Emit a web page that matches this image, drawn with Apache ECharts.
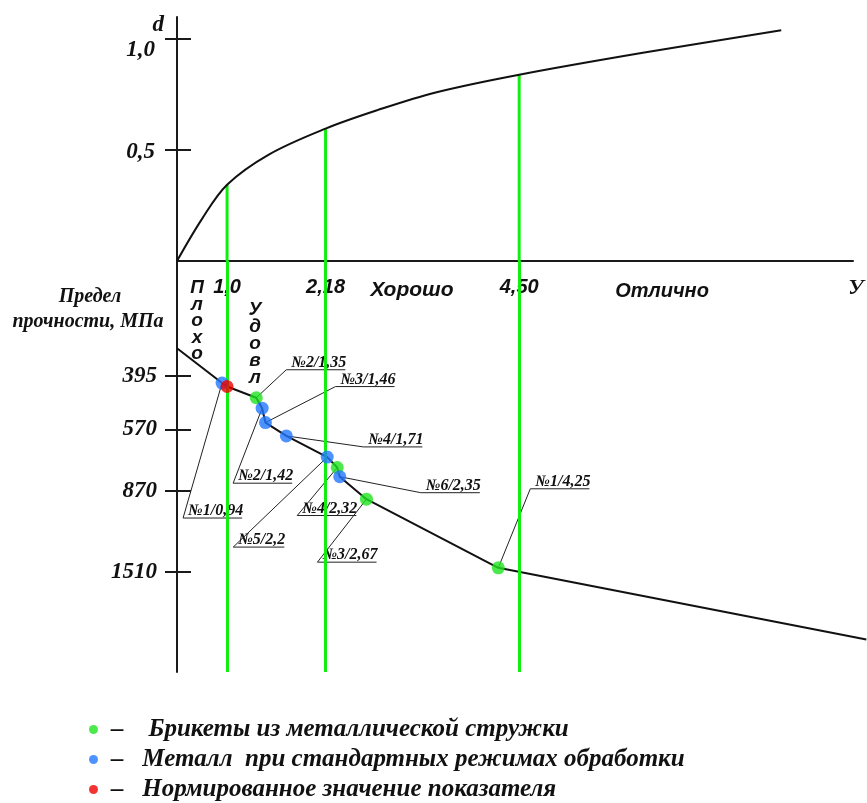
<!DOCTYPE html>
<html>
<head>
<meta charset="utf-8">
<title>Номограмма желательности</title>
<script src="https://cdn.jsdelivr.net/npm/echarts@6/dist/echarts.min.js"></script>
<style>
  html, body { margin: 0; padding: 0; background: #ffffff; }
  #chart { width: 867px; height: 803px; }
</style>
</head>
<body>
<div id="chart"></div>
<script>
// ---- Desirability curve d(У) ----
const curveU = [0.4, 0.7, 1.0, 1.5, 2.18, 2.8, 3.5, 4.5, 6.0, 7.64];
const curveD = [0, 0.19, 0.344, 0.48, 0.597, 0.68, 0.76, 0.84, 0.94, 1.04];

// ---- Grade boundaries on the У scale and d where they meet the curve ----
const gradeU = [1.0, 2.18, 4.5];
const gradeD = [0.344, 0.597, 0.84];
const gradeTickLabels = ['1,0', '2,18', '4,50'];

// ---- Axis ticks ----
const dTicks = [0.5, 1.0];
const strengthTicks = [395, 570, 870, 1510];

// ---- Briquettes from metal chips: sample No., У, ultimate strength (MPa) ----
const chipNo = [2, 4, 3, 1];
const chipU = [1.35, 2.32, 2.67, 4.25];
const chipS = [459, 740, 919, 1470];

// ---- Metal under standard machining modes ----
const metalNo = [1, 2, 3, 4, 5, 6];
const metalU = [0.94, 1.42, 1.46, 1.71, 2.2, 2.35];
const metalS = [415, 493, 544, 596, 689, 788];

// ---- Normative value of the index ----
const normU = [1.0];
const normS = [425];

// ---- Ends of the strength curve ----
const curveEndU = [0.4, 8.66];
const curveEndS = [327, 2400];

// ---- Series names (legend) ----
const chipName = 'Брикеты из металлической стружки';
const metalName = 'Металл  при стандартных режимах обработки';
const normName = 'Нормированное значение показателя';

// ---- Callout placement: offset of the underline start from its point, px ----
const calloutOffset = {
  '№1/0,94': [-39, 135],
  '№2/1,42': [-29, 75],
  '№3/1,46': [70, -36],
  '№4/1,71': [77, 11],
  '№5/2,2': [-94, 90],
  '№6/2,35': [81, 16],
  '№2/1,35': [30, -28],
  '№4/2,32': [-40, 48],
  '№3/2,67': [-49, 63],
  '№1/4,25': [32, -79]
};

const SERIF = '"Liberation Serif", "DejaVu Serif", serif';
const SANS = '"Liberation Sans", Arial, sans-serif';
const GREEN_LINE = '#12ee12';
const GREEN_DOT = '#1ee41e';
const BLUE_DOT = '#2277ff';
const RED_DOT = '#f00000';
const INK = '#111111';

const comma = v => String(v).replace('.', ',');
const zip = (a, b) => a.map((v, i) => [v, b[i]]);

// Strength curve passes through every sample point, ordered along У
const strengthCurve = zip(curveEndU, curveEndS)
  .concat(zip(chipU, chipS), zip(metalU, metalS), zip(normU, normS))
  .sort((p, q) => p[0] - q[0]);

// Callout records built from the sample arrays
const callouts = [];
metalNo.forEach((n, i) => callouts.push(['№' + n + '/' + comma(metalU[i]), metalU[i], metalS[i]]));
chipNo.forEach((n, i) => callouts.push(['№' + n + '/' + comma(chipU[i]), chipU[i], chipS[i]]));

const calloutFont = 'italic bold 16px ' + SERIF;
const measureCtx = document.createElement('canvas').getContext('2d');
measureCtx.font = calloutFont;

// Shared У scale: the lower panel runs a little past the drawn axis line,
// so its extent is widened in proportion to keep both panels on one scale.
const PLOT_LEFT = 177, AXIS_WIDTH = 676, LOWER_WIDTH = 690;
const U_MIN = 0.4, U_MAX = 8.5;
const U_MAX_LOWER = U_MIN + (U_MAX - U_MIN) * LOWER_WIDTH / AXIS_WIDTH;
const S_MIN = 180, S_MAX = 3000;

const axisInk = { color: '#1a1a1a', width: 2 };
const boldSerif = size => ({ fontFamily: SERIF, fontStyle: 'italic', fontWeight: 'bold', fontSize: size, color: INK });
const boldSans = size => ({ fontFamily: SANS, fontStyle: 'italic', fontWeight: 'bold', fontSize: size, color: INK });

const chart = echarts.init(document.getElementById('chart'));

chart.setOption({
  animation: false,
  backgroundColor: '#ffffff',
  grid: [
    { left: PLOT_LEFT, width: AXIS_WIDTH, top: 17, height: 244 },
    { left: PLOT_LEFT, width: LOWER_WIDTH, top: 261, height: 411 }
  ],
  xAxis: [
    {
      gridIndex: 0, type: 'value', min: U_MIN, max: U_MAX,
      axisLine: { show: true, onZero: false, lineStyle: axisInk },
      axisTick: { show: false },
      splitLine: { show: false },
      axisLabel: {
        customValues: gradeU, margin: 16,
        ...boldSans(20),
        formatter: v => {
          const k = gradeU.findIndex(g => Math.abs(g - v) < 1e-6);
          return k >= 0 ? gradeTickLabels[k] : '';
        }
      },
      name: 'У', nameLocation: 'end', nameGap: 3,
      nameTextStyle: { ...boldSerif(22), align: 'center', verticalAlign: 'top', padding: [16, 0, 0, 0] }
    },
    {
      gridIndex: 1, type: 'value', min: U_MIN, max: U_MAX_LOWER, position: 'top', show: false
    }
  ],
  yAxis: [
    {
      gridIndex: 0, type: 'value', min: 0, max: 1.1, position: 'left',
      axisLine: { show: true, onZero: false, lineStyle: axisInk },
      axisTick: { show: true, customValues: dTicks, length: 12, lineStyle: axisInk },
      splitLine: { show: false },
      axisLabel: {
        customValues: dTicks, margin: 22, ...boldSerif(23),
        // the top label hangs just below its tick
        formatter: v => (v >= 1 ? '{low|' : '{mid|') + comma(v.toFixed(1)) + '}',
        rich: {
          low: { ...boldSerif(23), padding: [22, 0, 0, 0] },
          mid: { ...boldSerif(23), padding: [4, 0, 0, 0] }
        }
      }
    },
    {
      gridIndex: 0, type: 'value', min: 0, max: 1.1, position: 'left',
      axisLine: { show: false, onZero: false },
      axisTick: { show: true, inside: true, customValues: dTicks, length: 14, lineStyle: axisInk },
      axisLabel: { show: false }, splitLine: { show: false }
    },
    {
      gridIndex: 1, type: 'log', logBase: 10, min: S_MIN, max: S_MAX, inverse: true, position: 'left',
      axisLine: { show: true, onZero: false, lineStyle: axisInk },
      axisTick: { show: true, customValues: strengthTicks, length: 12, lineStyle: axisInk },
      splitLine: { show: false },
      axisLabel: { customValues: strengthTicks, margin: 20, ...boldSerif(23), formatter: v => String(Math.round(v)) }
    },
    {
      gridIndex: 1, type: 'log', logBase: 10, min: S_MIN, max: S_MAX, inverse: true, position: 'left',
      axisLine: { show: false, onZero: false },
      axisTick: { show: true, inside: true, customValues: strengthTicks, length: 14, lineStyle: axisInk },
      axisLabel: { show: false }, splitLine: { show: false }
    }
  ],
  legend: {
    orient: 'vertical', left: 89, top: 717, itemGap: 5, padding: 0,
    itemWidth: 9, itemHeight: 9, icon: 'circle',
    selectedMode: false,
    data: [chipName, metalName, normName],
    formatter: name => (name === chipName ? '–    ' : '–   ') + name,
    textStyle: { ...boldSerif(25), padding: [0, 0, 0, 8] }
  },
  graphic: [
    { type: 'text', x: 164, y: 25, style: { text: 'd', font: 'italic bold 23px ' + SERIF, fill: INK, align: 'right', verticalAlign: 'middle' } },
    { type: 'text', x: 90, y: 297, style: { text: 'Предел', font: 'italic bold 20px ' + SERIF, fill: INK, align: 'center', verticalAlign: 'middle' } },
    { type: 'text', x: 88, y: 322, style: { text: 'прочности, МПа', font: 'italic bold 20px ' + SERIF, fill: INK, align: 'center', verticalAlign: 'middle' } },
    { type: 'text', x: 197, y: 280, style: { text: 'П\nл\nо\nх\nо', font: 'italic bold 19px ' + SANS, lineHeight: 16.5, fill: INK, align: 'center' } },
    { type: 'text', x: 255, y: 301, style: { text: 'У\nд\nо\nв\nл', font: 'italic bold 19px ' + SANS, lineHeight: 17, fill: INK, align: 'center' } },
    { type: 'text', x: 412, y: 290, style: { text: 'Хорошо', font: 'italic bold 21px ' + SANS, fill: INK, align: 'center', verticalAlign: 'middle' } },
    { type: 'text', x: 662, y: 291, style: { text: 'Отлично', font: 'italic bold 20px ' + SANS, fill: INK, align: 'center', verticalAlign: 'middle' } }
  ],
  series: [
    {
      name: 'd(У)', type: 'line', xAxisIndex: 0, yAxisIndex: 0,
      data: zip(curveU, curveD), smooth: 0.35, showSymbol: false, silent: true,
      lineStyle: { color: INK, width: 2 }, z: 3
    },
    {
      name: 'grade-upper', type: 'custom', xAxisIndex: 0, yAxisIndex: 0,
      data: zip(gradeU, gradeD), silent: true, z: 2,
      renderItem: (params, api) => {
        const top = api.coord([api.value(0), api.value(1)]);
        const bottom = api.coord([api.value(0), 0]);
        return { type: 'line', shape: { x1: top[0], y1: top[1], x2: bottom[0], y2: bottom[1] },
                 style: { stroke: GREEN_LINE, lineWidth: 3 } };
      }
    },
    {
      name: 'strength', type: 'line', xAxisIndex: 1, yAxisIndex: 2,
      data: strengthCurve, showSymbol: false, silent: true,
      lineStyle: { color: INK, width: 2 }, z: 3,
      markLine: {
        silent: true, symbol: 'none', label: { show: false },
        lineStyle: { color: GREEN_LINE, width: 3, type: 'solid' },
        data: gradeU.map(u => ({ xAxis: u }))
      }
    },
    {
      name: 'callouts', type: 'custom', xAxisIndex: 1, yAxisIndex: 2,
      data: callouts.map((c, i) => [c[1], c[2], i]), silent: true, z: 4,
      renderItem: (params, api) => {
        const c = callouts[api.value(2)];
        const p = api.coord([api.value(0), api.value(1)]);
        const off = calloutOffset[c[0]] || [30, -30];
        const a = [p[0] + off[0], p[1] + off[1]];
        const w = measureCtx.measureText(c[0]).width;
        return {
          type: 'group',
          children: [
            { type: 'polyline', shape: { points: [p, a, [a[0] + w + 4, a[1]]] },
              style: { stroke: '#222222', lineWidth: 1, fill: null } },
            { type: 'text', x: a[0] + 5, y: a[1] + 1,
              style: { text: c[0], font: calloutFont, fill: INK, align: 'left', verticalAlign: 'bottom' } }
          ]
        };
      }
    },
    {
      name: chipName, type: 'scatter', xAxisIndex: 1, yAxisIndex: 2,
      data: zip(chipU, chipS), symbol: 'circle', symbolSize: 13, silent: true,
      itemStyle: { color: GREEN_DOT }, z: 5
    },
    {
      name: metalName, type: 'scatter', xAxisIndex: 1, yAxisIndex: 2,
      data: zip(metalU, metalS), symbol: 'circle', symbolSize: 13, silent: true,
      itemStyle: { color: BLUE_DOT }, z: 5
    },
    {
      name: normName, type: 'scatter', xAxisIndex: 1, yAxisIndex: 2,
      data: zip(normU, normS), symbol: 'circle', symbolSize: 13, silent: true,
      itemStyle: { color: RED_DOT }, z: 6
    }
  ]
});
</script>
</body>
</html>
